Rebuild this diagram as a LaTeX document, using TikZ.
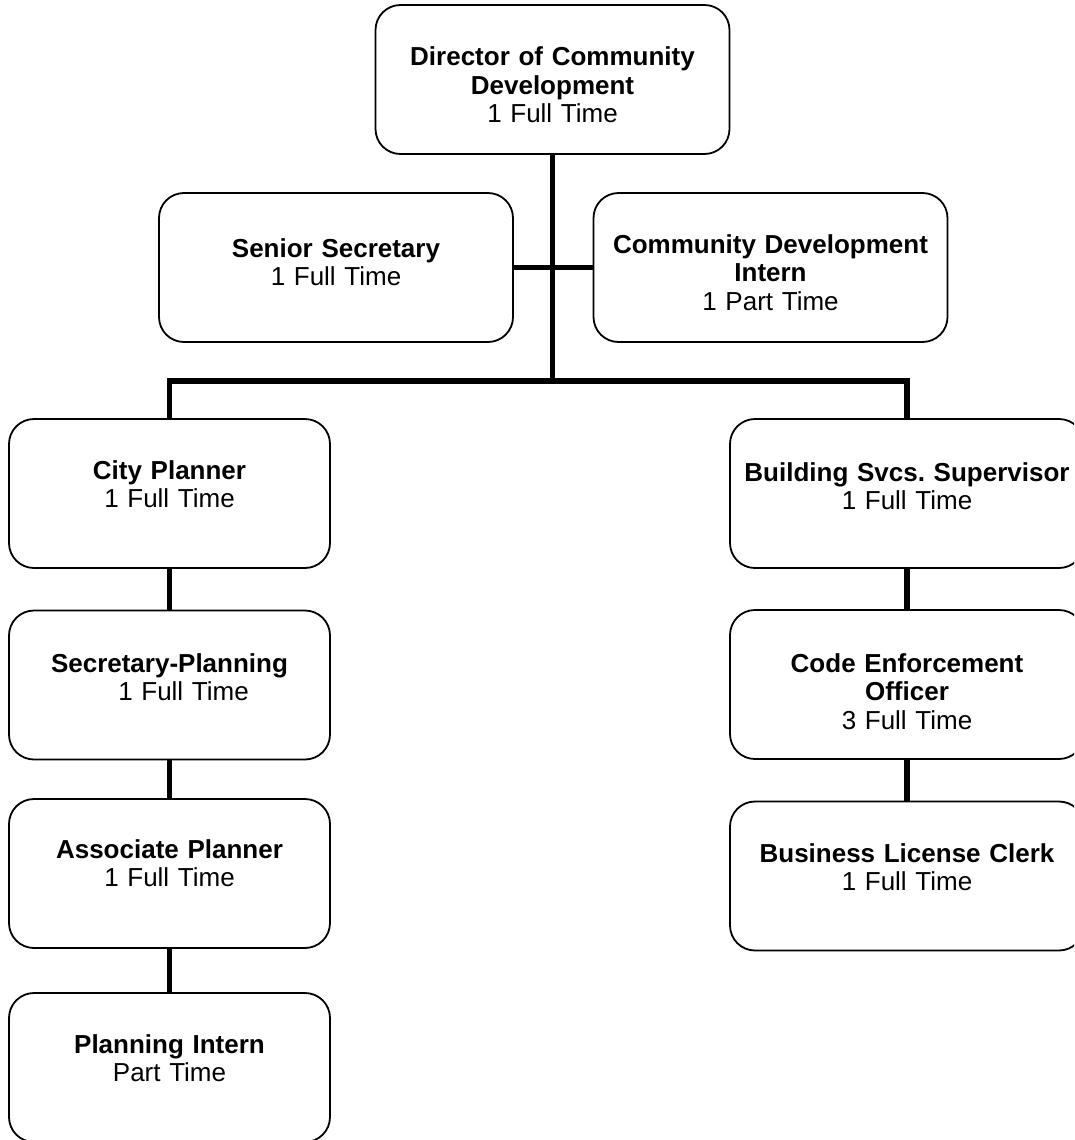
\documentclass[tikz,border=0pt]{standalone}
\usepackage{fontspec}
\setmainfont{Liberation Sans}
\frenchspacing
\begin{document}
\begin{tikzpicture}[x=1pt,y=-1pt,
  box/.style={draw,line width=1.8pt,rounded corners=25pt,minimum height=149pt,inner sep=0pt,rectangle},
  wide/.style={box,minimum width=354pt},
  narrow/.style={box,minimum width=321pt},
  txt/.style={anchor=base,text width=380pt,align=center,inner sep=0pt,font=\fontsize{26}{28.5}\selectfont},
  link/.style={line width=5.5pt}]
\useasboundingbox (0,0) rectangle (1074,1140);
\clip (0,0) rectangle (1074,1140);

% boxes
\node[wide]   (dir) at (552.5,79.5) {};
\node[wide]   (sen) at (336,267.5) {};
\node[wide]   (cdi) at (770.5,267.5) {};
\node[narrow] (cp)  at (169.5,493.5) {};
\node[narrow] (sp)  at (169.5,685) {};
\node[narrow] (ap)  at (169.5,873.5) {};
\node[narrow] (pi)  at (169.5,1067.5) {};
\node[wide]   (bs)  at (907,493.5) {};
\node[wide]   (ce)  at (907,684.5) {};
\node[wide]   (bl)  at (907,876) {};

% texts
\node[txt] (tdir) at (552.5,66) {\textbf{Director of Community}\\\textbf{Development}\\1 Full Time};
\node[txt] (tsen) at (336,257) {\textbf{Senior Secretary}\\1 Full Time};
\node[txt] (tcdi) at (770.5,253) {\textbf{Community Development}\\\textbf{Intern}\\1 Part Time};
\node[txt] (tcp)  at (169.5,479) {\textbf{City Planner}\\1 Full Time};
\node[txt] (tsp)  at (169.5,672) {\textbf{Secretary-Planning}\\\hspace*{28pt}1 Full Time};
\node[txt] (tap)  at (169.5,858) {\textbf{Associate Planner}\\1 Full Time};
\node[txt] (tpi)  at (169.5,1053) {\textbf{Planning Intern}\\Part Time};
\node[txt] (tbs)  at (907,481) {\textbf{Building Svcs. Supervisor}\\1 Full Time};
\node[txt] (tce)  at (907,672) {\textbf{Code Enforcement}\\\textbf{Officer}\\3 Full Time};
\node[txt] (tbl)  at (907,862) {\textbf{Business License Clerk}\\1 Full Time};

% connectors
\coordinate (busc) at (552.5,381);
\draw[link] (dir.south) -- (busc);
\draw[link] (sen.east) -- (cdi.west);
\draw[link] (cp.north) |- (busc) -| (bs.north);
\draw[link] (cp.south) -- (sp.north);
\draw[link] (sp.south) -- (ap.north);
\draw[link] (ap.south) -- (pi.north);
\draw[link] (bs.south) -- (ce.north);
\draw[link] (ce.south) -- (bl.north);
\end{tikzpicture}
\end{document}
